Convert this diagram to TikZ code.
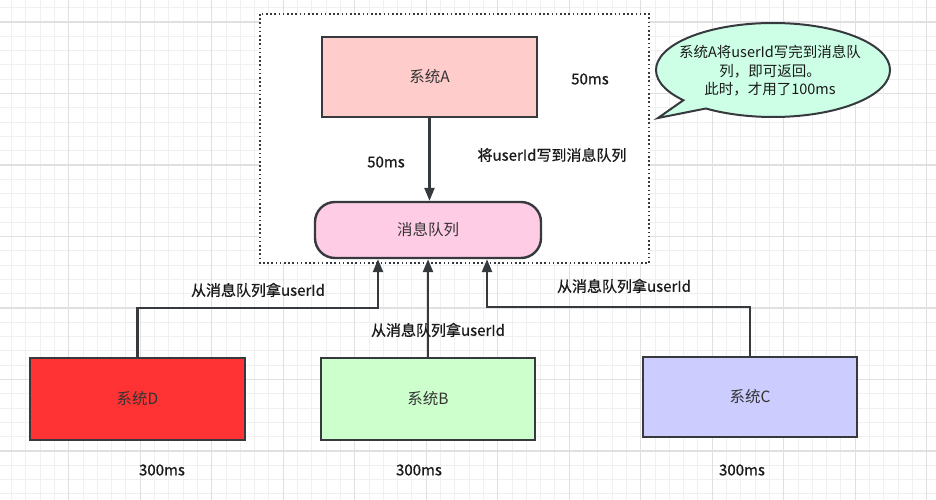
\documentclass[tikz,border=0pt]{standalone}
\usepackage{fontspec}
\setmainfont{Noto Sans CJK SC}
\newfontfamily\medfont{Noto Sans CJK SC}[FakeBold=0.7]
\usetikzlibrary{arrows.meta}
\definecolor{bordc}{HTML}{36393D}
\definecolor{afill}{HTML}{FFCCCC}
\definecolor{qfill}{HTML}{FFCCE6}
\definecolor{dfill}{HTML}{FF3333}
\definecolor{bfill}{HTML}{CCFFCC}
\definecolor{cfill}{HTML}{CCCCFF}
\definecolor{callfill}{HTML}{CCFFE6}
\definecolor{gminorc}{HTML}{F0F0F0}
\definecolor{gmajorc}{HTML}{E0E0E0}
\definecolor{txtc}{HTML}{333333}
\definecolor{lblc}{HTML}{1A1A1A}
\tikzset{
  gminor/.style={draw=gminorc, line width=0.9pt},
  gmajor/.style={draw=gmajorc, line width=1.1pt},
  sysbox/.style={draw=bordc, line width=2.4pt, minimum width=215pt, minimum height=80pt, inner sep=0pt, text=txtc, font=\fontsize{15.5}{18}\selectfont},
  queuebox/.style={sysbox, rounded corners=20pt, minimum width=226pt, minimum height=56pt},
  arr/.style={draw=bordc, line width=2.4pt, -{Triangle[length=13pt,width=10pt]}},
  lbl/.style={text=lblc, font=\medfont\fontsize{15}{17}\selectfont, inner sep=0pt},
  callout/.style={draw=bordc, line width=2pt, fill=callfill},
  grpbox/.style={draw=bordc, line width=2pt, dash pattern=on 1.6pt off 2.6pt, fill=white}
}
\begin{document}
\begin{tikzpicture}[x=1pt,y=-1pt]
\useasboundingbox (0,0) rectangle (936,500);
\fill[white] (0,0) rectangle (936,500);
\begin{scope}
\clip (0,0) rectangle (936,500);
\foreach \i in {0,...,66} \draw[gminor] ({-2.8+14.3*\i},0) -- ++(0,500);
\foreach \j in {-2,...,34} \draw[gminor] (0,{22+14.3*\j}) -- ++(936,0);
\foreach \i in {0,...,13} \draw[gmajor] ({-2.8+71.5*\i},0) -- ++(0,500);
\foreach \j in {-1,...,7} \draw[gmajor] (0,{22+71.5*\j}) -- ++(936,0);
\end{scope}

% group box
\path[grpbox] (260,14) rectangle (649,263);

% nodes
\node[sysbox, fill=afill] (A) at (429.5,77) {系统A};
\node[queuebox, fill=qfill] (Q) at (428,230) {消息队列};
\node[sysbox, fill=dfill, minimum height=82pt] (D) at (137.5,399) {系统D};
\node[sysbox, fill=bfill, minimum width=214pt, minimum height=82pt] (B) at (428,399) {系统B};
\node[sysbox, fill=cfill, minimum width=214pt, minimum height=80pt] (C) at (750,397) {系统C};

% callout
\path[callout] (773,70) ++(140:117 and 47) arc[start angle=140, end angle=485, x radius=117, y radius=47] -- (658,118) -- cycle;
\node[text=lblc, inner sep=0pt, align=center, font=\fontsize{14.5}{18.5}\selectfont] (note) at (770,71) {系统A将userId写完到消息队\\列，即可返回。\\此时，才用了100ms};

% connectors
\coordinate (qd) at ([xshift=-50pt]Q.south);
\coordinate (qc) at ([xshift=59pt]Q.south);
\draw[arr] (A.south) -- (A.south |- Q.north);
\draw[arr] (B.north) -- (B.north |- Q.south);
\draw[arr] (D.north) -- (D.north |- 0,308) -| (qd);
\draw[arr] (C.north) -- (C.north |- 0,307) -| (qc);

% labels
\node[lbl] (l50a) at (590,79) {50ms};
\node[lbl] (l50b) at (386,162) {50ms};
\node[lbl] (lwrite) at (552,155) {将userId写到消息队列};
\node[lbl] (ld) at (258,290) {从消息队列拿userId};
\node[lbl] (lb) at (438,330) {从消息队列拿userId};
\node[lbl] (lc) at (624,286) {从消息队列拿userId};
\node[lbl] (t1) at (162,470) {300ms};
\node[lbl] (t2) at (419,470) {300ms};
\node[lbl] (t3) at (742,470) {300ms};
\end{tikzpicture}
\end{document}
